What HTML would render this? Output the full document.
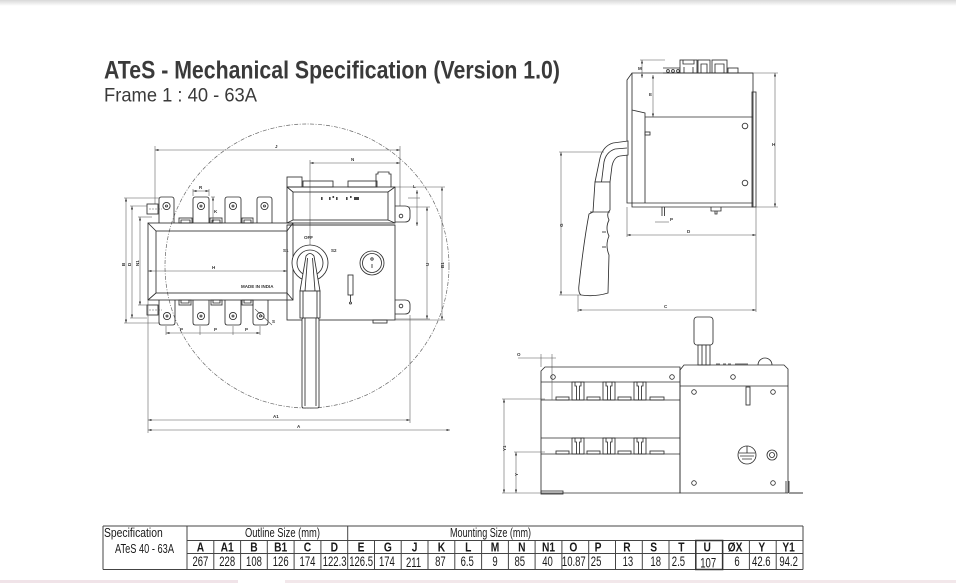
<!DOCTYPE html>
<html><head><meta charset="utf-8"><style>
html,body{margin:0;padding:0;background:#fff;}
svg{display:block;}
.l{fill:none;stroke:#2e2e2e;stroke-width:0.85}
.w{fill:#fff;stroke:#2e2e2e;stroke-width:0.85}
.d{fill:none;stroke:#555;stroke-width:0.55}
.dm{fill:none;stroke:#555;stroke-width:0.55;marker-start:url(#ar);marker-end:url(#ar)}
.t{font-family:"Liberation Sans",sans-serif;font-weight:bold;font-size:4.5px;fill:#333}
.tb{stroke:#444;stroke-width:1;fill:none}
.hd{font-family:"Liberation Sans",sans-serif;font-weight:bold;font-size:12.5px;fill:#1a1a1a;text-anchor:middle}
.vl{font-family:"Liberation Sans",sans-serif;font-size:14px;fill:#1a1a1a;text-anchor:middle}
.tx{font-family:"Liberation Sans",sans-serif;font-size:12.5px;fill:#1a1a1a}
</style></head><body>
<svg width="956" height="583" viewBox="0 0 956 583" xmlns="http://www.w3.org/2000/svg">
<defs>
<linearGradient id="sh" x1="0" y1="0" x2="0" y2="1"><stop offset="0" stop-color="#d8d8d8"/><stop offset="1" stop-color="#fff"/></linearGradient>
<marker id="ar" viewBox="0 0 6 4" refX="6" refY="2" markerWidth="3.5" markerHeight="2.4" orient="auto-start-reverse" markerUnits="userSpaceOnUse"><path d="M0,0L6,2L0,4z" fill="#444"/></marker>
</defs>
<rect x="0" y="0" width="956" height="6" fill="url(#sh)"/>
<rect x="0" y="580" width="238" height="3" fill="#f0e3e8"/>
<rect x="285" y="580" width="671" height="3" fill="#f2e7ea"/>

<!-- Title -->
<text x="104" y="78.5" font-family="Liberation Sans, sans-serif" font-weight="bold" font-size="25" fill="#3a3a3a" textLength="456" lengthAdjust="spacingAndGlyphs">ATeS - Mechanical Specification (Version 1.0)</text>
<text x="104" y="101.5" font-family="Liberation Sans, sans-serif" font-size="19.5" fill="#3a3a3a" textLength="153" lengthAdjust="spacingAndGlyphs">Frame 1 : 40 - 63A</text>

<!-- ===== FRONT VIEW ===== -->
<circle cx="307" cy="266" r="142" fill="none" stroke="#666" stroke-width="0.7" stroke-dasharray="4 1.5 1 1.5"/>

<!-- J / N dims -->
<line class="dm" x1="155" y1="150" x2="400" y2="150"/>
<line class="d" x1="155" y1="146" x2="155" y2="204"/>
<line class="d" x1="400" y1="146" x2="400" y2="206"/>
<text class="t" x="275" y="148">J</text>
<line class="dm" x1="310" y1="163" x2="400" y2="163"/>
<line class="d" x1="310" y1="160" x2="310" y2="252"/>
<text class="t" x="351" y="161">N</text>

<!-- top housing -->
<rect class="l" x="287" y="177" width="15" height="10"/>
<rect class="l" x="303" y="181" width="30" height="6"/>
<rect class="l" x="348" y="181" width="29" height="6"/>
<path class="l" d="M376,187 V174 H378 V172 H389 V174 H391 V187"/>
<rect class="l" x="287" y="187" width="108" height="36"/>
<rect class="l" x="293" y="192" width="95" height="28"/>
<path class="l" d="M287,187 L293,192 M395,187 L388,192 M287,223 L293,220 M395,223 L388,220"/>
<line class="l" x1="287" y1="225" x2="395" y2="225"/>
<g fill="#444">
<rect x="321" y="197" width="1.6" height="3"/><rect x="329" y="197" width="1.6" height="3"/><rect x="332.5" y="196" width="1.6" height="2"/><rect x="336" y="197" width="1.6" height="3"/>
<rect x="346" y="197" width="1.6" height="3"/><rect x="350" y="196" width="1.6" height="2"/><rect x="354" y="197" width="5" height="3"/>
</g>

<!-- controller lower -->
<rect class="l" x="287" y="225" width="108" height="95"/>
<rect class="l" x="373" y="320" width="14" height="3"/>

<!-- switch body -->
<rect class="l" x="148" y="223" width="145" height="77"/>
<rect class="l" x="156" y="231" width="131" height="62"/>
<path class="l" d="M148,223 L156,231 M148,300 L156,293 M293,223 L287,231 M293,300 L287,293"/>

<!-- top terminals -->
<g class="l">
<path d="M159,223 V199.5 Q159,197 161.5,197 H171.5 Q174,197 174,199.5 V223"/>
<path d="M193,223 V199.5 Q193,197 195.5,197 H206.5 Q209,197 209,199.5 V223"/>
<path d="M225,223 V199.5 Q225,197 227.5,197 H238.5 Q241,197 241,199.5 V223"/>
<path d="M257,223 V199.5 Q257,197 259.5,197 H269.5 Q272,197 272,199.5 V223"/>
<circle cx="166.5" cy="206" r="3.6"/><circle cx="166.5" cy="206" r="1"/>
<circle cx="201" cy="206" r="3.6"/><circle cx="201" cy="206" r="1"/>
<circle cx="233" cy="206" r="3.6"/><circle cx="233" cy="206" r="1"/>
<circle cx="264.5" cy="206" r="3.6"/><circle cx="264.5" cy="206" r="1"/>
<rect x="179" y="218" width="13" height="5"/><path d="M181,223 V220 H190 V223"/>
<rect x="210" y="218" width="12" height="5"/><path d="M212,223 V220 H220 V223"/>
<rect x="242" y="218" width="11" height="5"/><path d="M244,223 V220 H251 V223"/>
</g>
<!-- bottom terminals -->
<g class="l">
<path d="M159,300 V322.5 Q159,325 161.5,325 H172.5 Q175,325 175,322.5 V300"/>
<path d="M193,300 V322.5 Q193,325 195.5,325 H206.5 Q209,325 209,322.5 V300"/>
<path d="M225,300 V322.5 Q225,325 227.5,325 H238.5 Q241,325 241,322.5 V300"/>
<path d="M253,300 V322.5 Q253,325 255.5,325 H265.5 Q268,325 268,322.5 V300"/>
<circle cx="167" cy="316" r="3.6"/><circle cx="167" cy="316" r="1"/>
<circle cx="201" cy="316" r="3.6"/><circle cx="201" cy="316" r="1"/>
<circle cx="233" cy="316" r="3.6"/><circle cx="233" cy="316" r="1"/>
<circle cx="260.5" cy="316" r="3.6"/><circle cx="260.5" cy="316" r="1"/>
<rect x="179" y="300" width="12" height="5"/><path d="M181,300 V303 H189 V300"/>
<rect x="211" y="300" width="11" height="5"/><path d="M213,300 V303 H220 V300"/>
<rect x="242" y="300" width="11" height="5"/><path d="M244,300 V303 H251 V300"/>
</g>
<line class="d" x1="255" y1="309" x2="272" y2="325"/>
<text class="t" x="272" y="323">S</text>

<!-- left ears -->
<rect class="l" x="147" y="204" width="11" height="10"/>
<line class="d" x1="149" y1="209" x2="162" y2="209" stroke-dasharray="2 1"/>
<rect class="l" x="147" y="305" width="11" height="10"/>
<line class="d" x1="149" y1="310" x2="162" y2="310" stroke-dasharray="2 1"/>
<!-- right ears -->
<path class="l" d="M395,206 H405 Q410,206 410,211 V217 Q410,222 405,222 H395"/>
<circle class="l" cx="401" cy="216" r="1.8"/>
<path class="l" d="M395,300 H405 Q410,300 410,305 V309 Q410,314 405,314 H395"/>
<circle class="l" cx="401" cy="306" r="1.8"/>

<!-- knob & handle -->
<circle class="w" cx="310" cy="263" r="18"/>
<circle class="l" cx="310" cy="263" r="13"/>
<path class="w" d="M306,256 Q310,251 314,256 L320,291 L300,291 Z"/>
<path class="l" d="M307.5,258 L305,291 M312.5,258 L315,291"/>
<rect class="w" x="300" y="291" width="20" height="27"/>
<path class="l" d="M303,291 V318 M317,291 V318"/>
<rect class="w" x="302" y="318" width="17" height="90" rx="1.5"/>
<path class="l" d="M305,318 V406 M316,318 V406" stroke-width="0.4"/>
<text class="t" x="304" y="239" font-size="5.5">OFF</text>
<text class="t" x="283" y="252" font-size="5.5">S1</text>
<text class="t" x="331" y="252" font-size="5.5">S2</text>
<text class="t" x="241" y="288" font-size="3.8">MADE IN INDIA</text>

<!-- indicator -->
<circle class="l" cx="372" cy="263" r="12"/>
<circle class="l" cx="372" cy="263" r="9.5"/>
<circle class="l" cx="372" cy="259" r="1.2"/>
<line class="l" x1="372" y1="264" x2="372" y2="268"/>
<rect class="l" x="348" y="275" width="5" height="20"/>
<line class="l" x1="350.5" y1="295" x2="350.5" y2="302"/>
<circle class="l" cx="350.5" cy="303" r="1"/>

<!-- H dim -->
<line class="dm" x1="148" y1="271" x2="287" y2="271"/>
<text class="t" x="212" y="269">H</text>

<!-- left dims -->
<line class="d" x1="124" y1="198" x2="160" y2="198"/>
<line class="d" x1="124" y1="323" x2="160" y2="323"/>
<line class="d" x1="130" y1="206" x2="147" y2="206"/>
<line class="d" x1="130" y1="318" x2="147" y2="318"/>
<line class="d" x1="138" y1="217" x2="152" y2="217"/>
<line class="d" x1="138" y1="305" x2="152" y2="305"/>
<line class="dm" x1="126" y1="198" x2="126" y2="323"/>
<line class="dm" x1="132" y1="206" x2="132" y2="318"/>
<line class="dm" x1="140" y1="217" x2="140" y2="305"/>
<text class="t" transform="translate(125,266) rotate(-90)">B</text>
<text class="t" transform="translate(131,266) rotate(-90)">D</text>
<text class="t" transform="translate(139,266) rotate(-90)">N1</text>

<!-- right dims -->
<line class="d" x1="408" y1="198" x2="420" y2="198"/>
<line class="d" x1="408" y1="207" x2="430" y2="207"/>
<line class="dm" x1="417" y1="190" x2="417" y2="226"/>
<text class="t" x="413" y="188">L</text>
<line class="d" x1="395" y1="319" x2="430" y2="319"/>
<line class="dm" x1="427" y1="207" x2="427" y2="319"/>
<text class="t" transform="translate(429,266) rotate(-90)">U</text>
<line class="d" x1="395" y1="187" x2="445" y2="187"/>
<line class="d" x1="395" y1="320" x2="445" y2="320"/>
<line class="dm" x1="442" y1="187" x2="442" y2="320"/>
<text class="t" transform="translate(444,268) rotate(-90)">B1</text>

<!-- bottom dims -->
<line class="d" x1="148" y1="300" x2="148" y2="433"/>
<line class="d" x1="410" y1="315" x2="410" y2="423"/>
<line class="dm" x1="148" y1="420" x2="410" y2="420"/>
<text class="t" x="273" y="418">A1</text>
<line class="dm" x1="148" y1="430" x2="450" y2="430"/>
<text class="t" x="297" y="428">A</text>
<line class="d" x1="166" y1="326" x2="166" y2="335"/>
<line class="d" x1="200" y1="326" x2="200" y2="335"/>
<line class="d" x1="233" y1="326" x2="233" y2="335"/>
<line class="d" x1="260" y1="326" x2="260" y2="335"/>
<line class="dm" x1="166" y1="333" x2="260" y2="333"/>
<text class="t" x="180" y="331" fill="#c60">P</text>
<text class="t" x="214" y="331" fill="#c60">P</text>
<text class="t" x="245" y="331" fill="#c60">P</text>
<line class="d" x1="193" y1="189" x2="193" y2="196"/>
<line class="d" x1="209" y1="189" x2="209" y2="196"/>
<line class="dm" x1="193" y1="191" x2="209" y2="191"/>
<text class="t" x="199" y="189" fill="#c60">R</text>
<line class="d" x1="211" y1="197" x2="215" y2="197"/>
<line class="dm" x1="213" y1="197" x2="213" y2="223"/>
<text class="t" x="214" y="213" fill="#c60">K</text>

<!-- ===== SIDE VIEW ===== -->
<line class="l" x1="663" y1="73" x2="753" y2="73"/>
<line class="l" x1="663" y1="68" x2="680" y2="68"/>
<circle class="l" cx="668" cy="71" r="1.4"/><circle class="l" cx="673" cy="71" r="1.4"/><circle class="l" cx="678" cy="71" r="1.4"/>
<rect class="l" x="680" y="60" width="17" height="13"/>
<path class="l" d="M683,60 V64 H694 V60 M684,73 V67 M693,73 V67"/>
<rect class="l" x="698" y="60" width="12" height="13"/>
<path class="l" d="M701,73 V64 H707 V73"/>
<rect class="l" x="712" y="60" width="15" height="13"/>
<path class="l" d="M715,73 V64 H724 V73"/>
<rect class="l" x="728" y="68" width="10" height="5"/>
<path class="l" d="M627,80 L632,73 H753 V207 H632 V203 H627 Z"/>
<line class="l" x1="632" y1="73" x2="632" y2="203"/>
<path class="l" d="M632,110 L645,113 V203"/>
<line class="l" x1="645" y1="117" x2="753" y2="117"/>
<line class="l" x1="632" y1="203" x2="753" y2="203"/>
<rect class="l" x="752" y="92" width="4" height="115"/>
<circle class="l" cx="745" cy="126" r="2.8"/>
<circle class="l" cx="745" cy="183" r="2.8"/>
<rect class="l" x="645" y="132" width="5" height="3"/>
<path class="l" d="M662,207 V216 M664.5,207 V216"/>
<path class="l" d="M711,207 V211 H721 V207 M715,211 V214 H717 V211"/>
<!-- handle -->
<path class="w" d="M628,141 L613,143 Q603,146 600,158 L595,182 L610,182 L612,166 Q614,157 620,156 L628,155 Z"/>
<path class="l" d="M627,148 L615,149 Q606,152 604,162 L601.5,182"/>
<path class="w" d="M595,182 L610,182 L610,210 Q606,214 609,220 Q605,228 609,236 Q605,245 609,255 L608,293 Q595,297 581,295 Q578,293 579,285 Q584,240 589,214 L593,212 Z"/>
<line class="l" x1="590" y1="212" x2="610" y2="212"/>
<line class="l" x1="602" y1="232" x2="606" y2="232"/>
<line class="l" x1="602" y1="247" x2="606" y2="247"/>
<!-- side dims -->
<line class="d" x1="640" y1="60" x2="665" y2="60"/>
<line class="dm" x1="642" y1="60" x2="642" y2="78"/>
<text class="t" x="638" y="70" fill="#c60">M</text>
<line class="dm" x1="653" y1="75" x2="653" y2="117"/>
<text class="t" x="649" y="96" fill="#c60">E</text>
<line class="d" x1="753" y1="73" x2="778" y2="73"/>
<line class="d" x1="756" y1="207" x2="778" y2="207"/>
<line class="dm" x1="775" y1="73" x2="775" y2="207"/>
<text class="t" x="772" y="146">H</text>
<line class="d" x1="559" y1="152" x2="604" y2="152"/>
<line class="d" x1="559" y1="295" x2="582" y2="295"/>
<line class="dm" x1="561" y1="152" x2="561" y2="295"/>
<text class="t" transform="translate(563,227) rotate(-90)">G</text>
<line class="d" x1="756" y1="207" x2="756" y2="312"/>
<line class="d" x1="627" y1="207" x2="627" y2="237"/>
<line class="d" x1="578" y1="295" x2="578" y2="312"/>
<line class="dm" x1="627" y1="235" x2="756" y2="235"/>
<text class="t" x="687" y="233">D</text>
<line class="dm" x1="578" y1="310" x2="756" y2="310"/>
<text class="t" x="664" y="308">C</text>
<line class="d" x1="655" y1="222" x2="669" y2="222"/>
<text class="t" x="670" y="221" fill="#c60">P</text>

<!-- ===== BOTTOM VIEW ===== -->
<path class="l" d="M545,367 H680 V493 H541 V371 Z"/>
<line class="l" x1="541" y1="382" x2="680" y2="382"/>
<line class="l" x1="541" y1="400" x2="680" y2="400"/>
<line class="l" x1="541" y1="438" x2="680" y2="438"/>
<line class="l" x1="541" y1="454" x2="680" y2="454"/>
<circle class="l" cx="553" cy="377" r="2.3"/>
<circle class="l" cx="672" cy="377" r="2.3"/>
<g class="l">
<rect x="572" y="382" width="12" height="18"/><path d="M575,382 V386 H576.5 V400 M581,382 V386 H579.5 V400"/>
<rect x="603" y="382" width="12" height="18"/><path d="M606,382 V386 H607.5 V400 M612,382 V386 H610.5 V400"/>
<rect x="634" y="382" width="12" height="18"/><path d="M637,382 V386 H638.5 V400 M643,382 V386 H641.5 V400"/>
<rect x="556" y="397" width="13" height="3"/><rect x="587" y="397" width="13" height="3"/><rect x="618" y="397" width="13" height="3"/><rect x="650" y="397" width="14" height="3"/>
<rect x="572" y="438" width="12" height="16"/><path d="M575,438 V442 H576.5 V454 M581,438 V442 H579.5 V454"/>
<rect x="603" y="438" width="12" height="16"/><path d="M606,438 V442 H607.5 V454 M612,438 V442 H610.5 V454"/>
<rect x="634" y="438" width="12" height="16"/><path d="M637,438 V442 H638.5 V454 M643,438 V442 H641.5 V454"/>
<rect x="556" y="451" width="13" height="3"/><rect x="587" y="451" width="13" height="3"/><rect x="618" y="451" width="13" height="3"/><rect x="650" y="451" width="14" height="3"/>
</g>
<rect class="l" x="541" y="491" width="22" height="3"/>
<!-- right part -->
<rect class="w" x="694" y="317" width="19" height="28" rx="3"/>
<rect class="w" x="698" y="345" width="12" height="20"/>
<line class="l" x1="702" y1="345" x2="702" y2="365"/>
<line class="l" x1="706" y1="345" x2="706" y2="365"/>
<path class="l" d="M680,370 L684,365 H784 L788,369 V493 H680 Z"/>
<line class="l" x1="680" y1="386" x2="788" y2="386"/>
<path class="l" d="M716,364 H720 M723,364 H726 M728,364 H731 M735,364 H748"/>
<path class="l" d="M758,365 A7,7 0 0 1 772,365"/>
<circle class="l" cx="733" cy="377" r="2.3"/>
<circle class="l" cx="694" cy="392" r="2.3"/>
<circle class="l" cx="773" cy="392" r="2.3"/>
<circle class="l" cx="694" cy="483" r="2.3"/>
<circle class="l" cx="773" cy="483" r="2.3"/>
<rect class="l" x="746" y="387" width="4" height="18"/>
<circle class="l" cx="747" cy="455" r="9"/>
<path class="l" d="M739,453 H755 M740,456 H754 M742,459 H752 M747,446 V453"/>
<circle class="l" cx="772" cy="455" r="5"/>
<circle class="l" cx="772" cy="455" r="2.5"/>
<path class="l" d="M786,481 V493 M789,481 V493"/>
<line x1="789" y1="493" x2="803" y2="493" stroke="#999" stroke-width="2"/>
<!-- bottom view dims -->
<line class="d" x1="541" y1="354" x2="541" y2="367"/>
<line class="d" x1="552" y1="354" x2="552" y2="400"/>
<line class="d" x1="518" y1="358" x2="556" y2="358"/>
<text class="t" x="517" y="356" fill="#36a">O</text>
<line class="d" x1="502" y1="399" x2="545" y2="399"/>
<line class="d" x1="514" y1="452" x2="545" y2="452"/>
<line class="d" x1="502" y1="493" x2="541" y2="493"/>
<line class="dm" x1="504" y1="399" x2="504" y2="493"/>
<line class="dm" x1="516" y1="452" x2="516" y2="493"/>
<text class="t" transform="translate(506,451) rotate(-90)">Y1</text>
<text class="t" transform="translate(518,476) rotate(-90)">Y</text>

<!-- ===== TABLE ===== -->
<g class="tb">
<line x1="103" y1="526" x2="803" y2="526"/>
<line x1="187" y1="540.5" x2="803" y2="540.5"/>
<line x1="187" y1="553.5" x2="803" y2="553.5"/>
<line x1="103" y1="569.5" x2="803" y2="569.5"/>
<line x1="103" y1="526" x2="103" y2="569.5"/>
<line x1="187" y1="526" x2="187" y2="569.5"/>
<line x1="347.7" y1="526" x2="347.7" y2="569.5"/>
<line x1="803" y1="526" x2="803" y2="569.5"/>
<line x1="213.8" y1="540.5" x2="213.8" y2="569.5"/>
<line x1="240.6" y1="540.5" x2="240.6" y2="569.5"/>
<line x1="267.3" y1="540.5" x2="267.3" y2="569.5"/>
<line x1="294.1" y1="540.5" x2="294.1" y2="569.5"/>
<line x1="320.9" y1="540.5" x2="320.9" y2="569.5"/>
<line x1="374.5" y1="540.5" x2="374.5" y2="569.5"/>
<line x1="401.2" y1="540.5" x2="401.2" y2="569.5"/>
<line x1="428.0" y1="540.5" x2="428.0" y2="569.5"/>
<line x1="454.8" y1="540.5" x2="454.8" y2="569.5"/>
<line x1="481.6" y1="540.5" x2="481.6" y2="569.5"/>
<line x1="508.4" y1="540.5" x2="508.4" y2="569.5"/>
<line x1="535.1" y1="540.5" x2="535.1" y2="569.5"/>
<line x1="561.9" y1="540.5" x2="561.9" y2="569.5"/>
<line x1="588.7" y1="540.5" x2="588.7" y2="569.5"/>
<line x1="615.5" y1="540.5" x2="615.5" y2="569.5"/>
<line x1="642.3" y1="540.5" x2="642.3" y2="569.5"/>
<line x1="669.0" y1="540.5" x2="669.0" y2="569.5"/>
<line x1="695.8" y1="540.5" x2="695.8" y2="569.5"/>
<line x1="722.6" y1="540.5" x2="722.6" y2="569.5"/>
<line x1="749.4" y1="540.5" x2="749.4" y2="569.5"/>
<line x1="776.2" y1="540.5" x2="776.2" y2="569.5"/>
</g>
<rect x="695.8" y="540.5" width="26.8" height="29" fill="none" stroke="#333" stroke-width="1.5"/>

<text class="tx" transform="translate(104,537) scale(0.83,1)">Specification</text>
<text class="tx" x="115" y="553" textLength="59" lengthAdjust="spacingAndGlyphs">ATeS 40 - 63A</text>
<text class="tx" x="245" y="537" textLength="75" lengthAdjust="spacingAndGlyphs">Outline Size (mm)</text>
<text class="tx" x="450" y="537" textLength="81" lengthAdjust="spacingAndGlyphs">Mounting Size (mm)</text>

<g>
<text class="hd" transform="translate(200.4,551.5) scale(0.82,1)">A</text>
<text class="hd" transform="translate(227.2,551.5) scale(0.82,1)">A1</text>
<text class="hd" transform="translate(254.0,551.5) scale(0.82,1)">B</text>
<text class="hd" transform="translate(280.7,551.5) scale(0.82,1)">B1</text>
<text class="hd" transform="translate(307.5,551.5) scale(0.82,1)">C</text>
<text class="hd" transform="translate(334.3,551.5) scale(0.82,1)">D</text>
<text class="hd" transform="translate(361.1,551.5) scale(0.82,1)">E</text>
<text class="hd" transform="translate(387.9,551.5) scale(0.82,1)">G</text>
<text class="hd" transform="translate(414.6,551.5) scale(0.82,1)">J</text>
<text class="hd" transform="translate(441.4,551.5) scale(0.82,1)">K</text>
<text class="hd" transform="translate(468.2,551.5) scale(0.82,1)">L</text>
<text class="hd" transform="translate(495.0,551.5) scale(0.82,1)">M</text>
<text class="hd" transform="translate(521.8,551.5) scale(0.82,1)">N</text>
<text class="hd" transform="translate(548.5,551.5) scale(0.82,1)">N1</text>
<text class="hd" transform="translate(573.3,551.5) scale(0.82,1)">O</text>
<text class="hd" transform="translate(598.1,551.5) scale(0.82,1)">P</text>
<text class="hd" transform="translate(626.9,551.5) scale(0.82,1)">R</text>
<text class="hd" transform="translate(653.7,551.5) scale(0.82,1)">S</text>
<text class="hd" transform="translate(681.4,551.5) scale(0.82,1)">T</text>
<text class="hd" transform="translate(707.2,551.5) scale(0.82,1)">U</text>
<text class="hd" transform="translate(735.0,551.5) scale(0.82,1)">ØX</text>
<text class="hd" transform="translate(761.8,551.5) scale(0.82,1)">Y</text>
<text class="hd" transform="translate(788.6,551.5) scale(0.82,1)">Y1</text>
</g>
<g>
<text class="vl" transform="translate(200.4,566) scale(0.68,1)">267</text>
<text class="vl" transform="translate(227.2,566) scale(0.68,1)">228</text>
<text class="vl" transform="translate(254.0,566) scale(0.68,1)">108</text>
<text class="vl" transform="translate(280.7,566) scale(0.68,1)">126</text>
<text class="vl" transform="translate(307.5,566) scale(0.68,1)">174</text>
<text class="vl" transform="translate(334.6,566) scale(0.68,1)">122.3</text>
<text class="vl" transform="translate(361.1,566) scale(0.68,1)">126.5</text>
<text class="vl" transform="translate(386.9,566) scale(0.68,1)">174</text>
<text class="vl" transform="translate(413.6,567) scale(0.68,1)">211</text>
<text class="vl" transform="translate(440.4,566) scale(0.68,1)">87</text>
<text class="vl" transform="translate(467.2,566) scale(0.68,1)">6.5</text>
<text class="vl" transform="translate(495.0,566) scale(0.68,1)">9</text>
<text class="vl" transform="translate(519.8,566) scale(0.68,1)">85</text>
<text class="vl" transform="translate(547.5,566) scale(0.68,1)">40</text>
<text class="vl" transform="translate(573.8,566) scale(0.68,1)">10.87</text>
<text class="vl" transform="translate(596.1,566) scale(0.68,1)">25</text>
<text class="vl" transform="translate(627.9,566) scale(0.68,1)">13</text>
<text class="vl" transform="translate(655.7,566) scale(0.68,1)">18</text>
<text class="vl" transform="translate(678.4,566) scale(0.68,1)">2.5</text>
<text class="vl" transform="translate(708.2,567.5) scale(0.68,1)">107</text>
<text class="vl" transform="translate(737.0,566) scale(0.68,1)">6</text>
<text class="vl" transform="translate(761.3,566) scale(0.68,1)">42.6</text>
<text class="vl" transform="translate(788.6,566) scale(0.68,1)">94.2</text>
</g>
</svg>
</body></html>
